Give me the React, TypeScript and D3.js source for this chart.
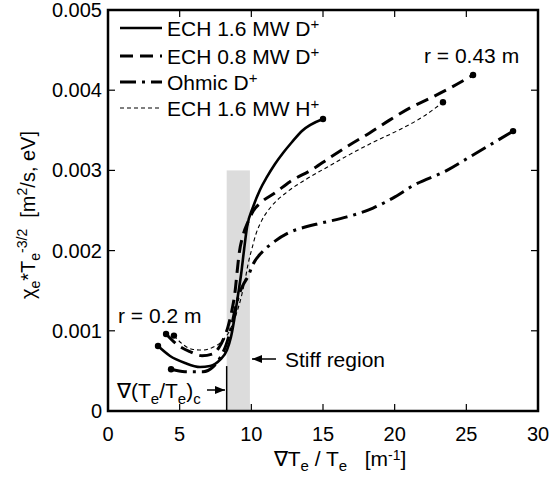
import React from "react";
import * as d3 from "d3";

// ---- data ----
const xTicks = [0, 5, 10, 15, 20, 25, 30];
const yTicks = [0, 0.001, 0.002, 0.003, 0.004, 0.005];
const yTickLabels = ["0", "0.001", "0.002", "0.003", "0.004", "0.005"];

const ech16D_x = [3.49, 4.33, 5.37, 6.42, 7.12, 7.81, 8.3, 8.58, 8.86, 9.07, 9.28, 9.49, 9.7, 10.12, 10.6, 11.09, 11.65, 12.21, 12.84, 13.53, 15.0];
const ech16D_y = [0.00081, 0.000686, 0.000599, 0.000549, 0.000561, 0.000636, 0.000761, 0.000923, 0.001197, 0.001446, 0.001696, 0.002007, 0.002294, 0.002544, 0.002756, 0.002918, 0.00308, 0.003217, 0.003354, 0.003491, 0.003641];

const ech08D_x = [4.05, 4.88, 5.72, 6.56, 7.26, 7.74, 8.09, 8.37, 8.65, 8.86, 9.0, 9.14, 9.42, 9.77, 10.12, 10.74, 11.65, 12.7, 14.23, 15.49, 16.88, 18.28, 19.67, 21.07, 22.47, 23.99, 25.47];
const ech08D_y = [0.00096, 0.00082, 0.00074, 0.00069, 0.00071, 0.00079, 0.00091, 0.00105, 0.00126, 0.00148, 0.00172, 0.00195, 0.00219, 0.00236, 0.00249, 0.00261, 0.00272, 0.00286, 0.00301, 0.00316, 0.00332, 0.00347, 0.00363, 0.00378, 0.0039, 0.00404, 0.00419];

const ohmicD_x = [4.4, 5.37, 6.63, 7.33, 7.81, 8.23, 8.58, 8.86, 9.14, 9.42, 9.77, 10.12, 10.74, 11.44, 12.7, 13.88, 14.79, 16.67, 18.49, 20.02, 21.28, 23.65, 25.26, 26.86, 28.26];
const ohmicD_y = [0.00052, 0.00049, 0.00049, 0.00055, 0.00066, 0.00082, 0.00103, 0.00126, 0.00145, 0.00157, 0.00168, 0.00183, 0.00198, 0.00209, 0.00223, 0.0023, 0.00234, 0.00242, 0.00253, 0.00267, 0.00281, 0.003, 0.00317, 0.00334, 0.00349];

const ech16H_x = [4.6, 5.16, 5.86, 6.56, 7.26, 7.95, 8.51, 8.93, 9.28, 9.56, 9.77, 10.05, 10.33, 10.74, 11.44, 12.49, 13.74, 15.49, 16.88, 18.49, 20.37, 21.98, 23.37];
const ech16H_y = [0.00094, 0.00084, 0.00077, 0.00076, 0.00079, 0.00087, 0.00101, 0.0012, 0.00141, 0.00163, 0.00183, 0.00203, 0.00221, 0.00238, 0.00256, 0.00273, 0.00288, 0.00306, 0.0032, 0.00335, 0.00351, 0.00367, 0.00385];

const seriesNames = ["ECH 1.6 MW D", "ECH 0.8 MW D", "Ohmic D", "ECH 1.6 MW H"];
const stiffRegion = [8.28, 9.9];
const stiffTop = 0.003;
const criticalTop = 0.00056;

const FONT = "'Liberation Sans', Arial, Helvetica, sans-serif";

export default function App() {
  const W = 558, H = 477;
  const x = d3.scaleLinear().domain([0, 30]).range([108, 538]);
  const y = d3.scaleLinear().domain([0, 0.005]).range([411, 10]);

  const line = d3
    .line<[number, number]>()
    .x((d) => x(d[0]))
    .y((d) => y(d[1]))
    .curve(d3.curveMonotoneX);

  const zip = (a: number[], b: number[]) => a.map((v, i) => [v, b[i]] as [number, number]);

  const series = [
    { xs: ech16D_x, ys: ech16D_y, width: 2.6, dash: "none" },
    { xs: ech08D_x, ys: ech08D_y, width: 3, dash: "13,7" },
    { xs: ohmicD_x, ys: ohmicD_y, width: 3, dash: "16,6,3,6" },
    { xs: ech16H_x, ys: ech16H_y, width: 1.1, dash: "4,3" },
  ];

  const legendY = [28, 56, 82, 108];

  return (
    <svg
      width={W}
      height={H}
      style={{ position: "absolute", left: 0, top: 0, background: "#fff" }}
      fontFamily={FONT}
    >
      <defs>
        <marker id="arr" viewBox="0 0 10 10" refX="10" refY="5" markerWidth="10" markerHeight="10" markerUnits="userSpaceOnUse" orient="auto">
          <path d="M0,1 L10,5 L0,9 Z" fill="#000" />
        </marker>
      </defs>
      {/* stiff region */}
      <rect
        x={x(stiffRegion[0])}
        y={y(stiffTop)}
        width={x(stiffRegion[1]) - x(stiffRegion[0])}
        height={y(0) - y(stiffTop)}
        fill="#dcdcdc"
      />
      <line x1={x(stiffRegion[0])} x2={x(stiffRegion[0])} y1={y(0)} y2={y(criticalTop)} stroke="#000" strokeWidth={1.5} />

      {/* curves */}
      {series.map((s, i) => {
        const pts = zip(s.xs, s.ys);
        return (
          <g key={i}>
            <path d={line(pts) || ""} fill="none" stroke="#000" strokeWidth={s.width} strokeDasharray={s.dash} />
            <circle cx={x(pts[0][0])} cy={y(pts[0][1])} r={3.2} fill="#000" />
            <circle cx={x(pts[pts.length - 1][0])} cy={y(pts[pts.length - 1][1])} r={3.2} fill="#000" />
          </g>
        );
      })}

      {/* frame */}
      <rect x={108} y={10} width={430} height={401} fill="none" stroke="#000" strokeWidth={2.5} />
      {xTicks.slice(1, -1).map((t) => (
        <g key={"xt" + t}>
          <line x1={x(t)} x2={x(t)} y1={411} y2={404} stroke="#000" strokeWidth={1.2} />
          <line x1={x(t)} x2={x(t)} y1={10} y2={17} stroke="#000" strokeWidth={1.2} />
        </g>
      ))}
      {yTicks.slice(1, -1).map((t) => (
        <g key={"yt" + t}>
          <line x1={108} x2={115} y1={y(t)} y2={y(t)} stroke="#000" strokeWidth={1.2} />
          <line x1={538} x2={531} y1={y(t)} y2={y(t)} stroke="#000" strokeWidth={1.2} />
        </g>
      ))}
      {xTicks.map((t) => (
        <text key={"xl" + t} x={x(t)} y={441} fontSize={20} textAnchor="middle">
          {t}
        </text>
      ))}
      {yTicks.map((t, i) => (
        <text key={"yl" + t} x={102} y={y(t) + 7} fontSize={20} textAnchor="end">
          {yTickLabels[i]}
        </text>
      ))}

      {/* axis titles */}
      <text x={340} y={466} fontSize={21} textAnchor="middle">
        ∇T<tspan fontSize={15} dy={5}>e</tspan>
        <tspan dy={-5}> / T</tspan>
        <tspan fontSize={15} dy={5}>e</tspan>
        <tspan dy={-5} xmlSpace="preserve">{"   [m"}</tspan>
        <tspan fontSize={14} dy={-6}>-1</tspan>
        <tspan dy={6}>]</tspan>
      </text>
      <text transform="translate(35,215) rotate(-90)" fontSize={20} textAnchor="middle">
        χ<tspan fontSize={14} dy={5}>e</tspan>
        <tspan dy={-5}>*T</tspan>
        <tspan fontSize={14} dy={5}>e</tspan>
        <tspan fontSize={14} dy={-13}>-3/2</tspan>
        <tspan dy={8} xmlSpace="preserve">{"  [m"}</tspan>
        <tspan fontSize={14} dy={-8}>2</tspan>
        <tspan dy={8}>/s, eV]</tspan>
      </text>

      {/* legend */}
      {series.map((s, i) => (
        <g key={"lg" + i}>
          <line x1={120} x2={162} y1={legendY[i]} y2={legendY[i]} stroke="#000" strokeWidth={s.width} strokeDasharray={s.dash} />
          <text x={167} y={legendY[i] + 8} fontSize={21}>
            {seriesNames[i]}
            <tspan fontSize={15} dy={-7}>+</tspan>
          </text>
        </g>
      ))}

      {/* annotations */}
      <text x={118} y={323} fontSize={21}>r = 0.2 m</text>
      <text x={424} y={63} fontSize={21}>r = 0.43 m</text>
      <text x={117} y={398} fontSize={21}>
        ∇(T<tspan fontSize={15} dy={6}>e</tspan>
        <tspan dy={-6}>/T</tspan>
        <tspan fontSize={15} dy={6}>e</tspan>
        <tspan dy={-6}>)</tspan>
        <tspan fontSize={15} dy={6}>c</tspan>
      </text>
      <line x1={207} x2={225} y1={390} y2={390} stroke="#000" strokeWidth={1.5} markerEnd="url(#arr)" />
      <line x1={276} x2={252} y1={359} y2={359} stroke="#000" strokeWidth={1.5} markerEnd="url(#arr)" />
      <text x={285} y={367} fontSize={21}>Stiff region</text>
    </svg>
  );
}
